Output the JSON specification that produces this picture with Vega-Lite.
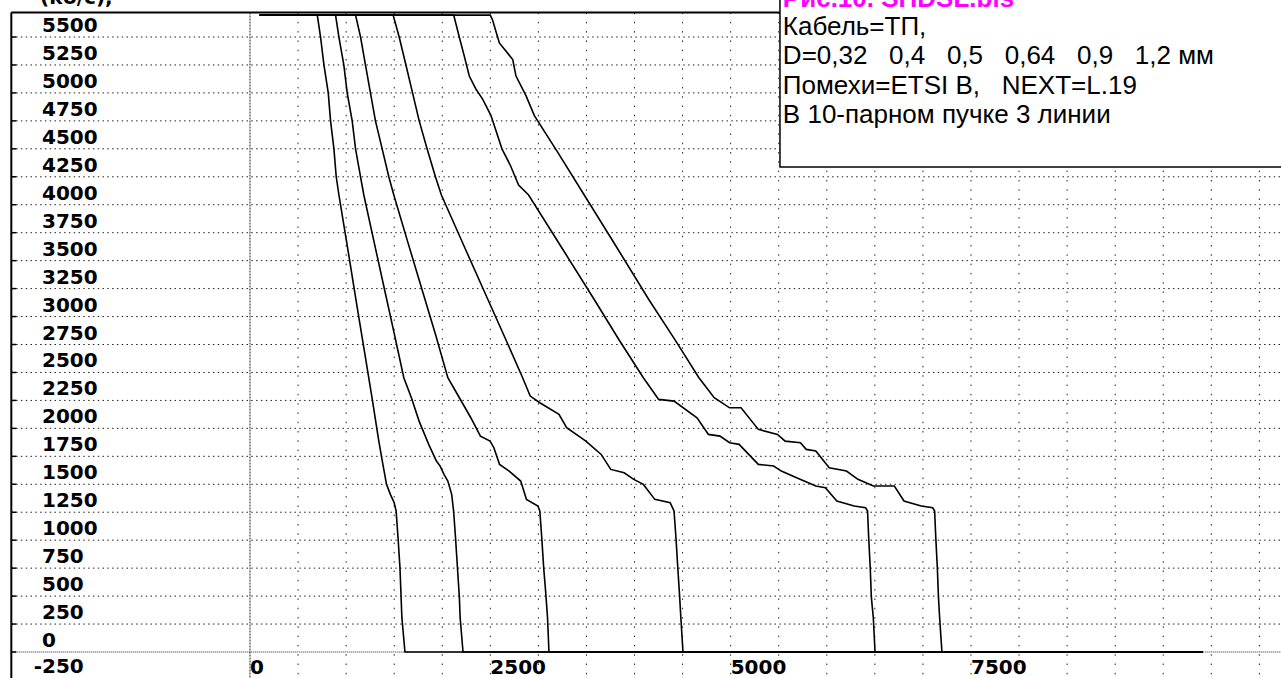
{
  "$schema": "https://vega.github.io/schema/vega-lite/v6.json",
  "width": 1281,
  "height": 678,
  "autosize": {"type": "none"},
  "padding": 0,
  "background": "white",
  "config": {"view": {"stroke": null}},
  "datasets": {
    "vgrid": [{"x":500},{"x":1000},{"x":1500},{"x":2000},{"x":2500},{"x":3000},{"x":3500},{"x":4000},{"x":4500},{"x":5000},{"x":5500},{"x":6000},{"x":6500},{"x":7000},{"x":7500},{"x":8000},{"x":8500},{"x":9000},{"x":9500},{"x":10000},{"x":10500}],
    "ylab": [{"v":0},{"v":250},{"v":500},{"v":750},{"v":1000},{"v":1250},{"v":1500},{"v":1750},{"v":2000},{"v":2250},{"v":2500},{"v":2750},{"v":3000},{"v":3250},{"v":3500},{"v":3750},{"v":4000},{"v":4250},{"v":4500},{"v":4750},{"v":5000},{"v":5250},{"v":5500}],
    "xlab": [{"v":0},{"v":2500},{"v":5000},{"v":7500}],
    "one": [{"a":1}],
    "legend": [{"t":"Кабель=ТП,\nD=0,32 \u00a0 0,4 \u00a0 0,5 \u00a0 0,64 \u00a0 0,9 \u00a0 1,2 мм\nПомехи=ETSI B, \u00a0 NEXT=L.19\nВ 10-парном пучке 3 линии"}],
    "curves": [
      {"s":"0,32","x":100,"y":5696},{"s":"0,32","x":700,"y":5696},{"s":"0,32","x":734,"y":5500},{"s":"0,32","x":769,"y":5250},{"s":"0,32","x":814,"y":5000},{"s":"0,32","x":838,"y":4750},{"s":"0,32","x":873,"y":4500},{"s":"0,32","x":897,"y":4250},{"s":"0,32","x":925,"y":4087},{"s":"0,32","x":1020,"y":3590},{"s":"0,32","x":1110,"y":3110},{"s":"0,32","x":1200,"y":2640},{"s":"0,32","x":1270,"y":2270},{"s":"0,32","x":1340,"y":1886},{"s":"0,32","x":1380,"y":1690},{"s":"0,32","x":1420,"y":1499},{"s":"0,32","x":1460,"y":1410},{"s":"0,32","x":1500,"y":1335},{"s":"0,32","x":1520,"y":1261},{"s":"0,32","x":1540,"y":1022},{"s":"0,32","x":1560,"y":754},{"s":"0,32","x":1580,"y":307},{"s":"0,32","x":1612,"y":0},{"s":"0,32","x":9913,"y":0},
      {"s":"0,4","x":100,"y":5696},{"s":"0,4","x":890,"y":5696},{"s":"0,4","x":925,"y":5500},{"s":"0,4","x":976,"y":5250},{"s":"0,4","x":1011,"y":5000},{"s":"0,4","x":1063,"y":4750},{"s":"0,4","x":1098,"y":4500},{"s":"0,4","x":1150,"y":4250},{"s":"0,4","x":1184,"y":4087},{"s":"0,4","x":1290,"y":3670},{"s":"0,4","x":1400,"y":3240},{"s":"0,4","x":1500,"y":2850},{"s":"0,4","x":1600,"y":2453},{"s":"0,4","x":1679,"y":2274},{"s":"0,4","x":1759,"y":2065},{"s":"0,4","x":1859,"y":1857},{"s":"0,4","x":1939,"y":1708},{"s":"0,4","x":1978,"y":1663},{"s":"0,4","x":2018,"y":1588},{"s":"0,4","x":2058,"y":1529},{"s":"0,4","x":2098,"y":1410},{"s":"0,4","x":2118,"y":1261},{"s":"0,4","x":2138,"y":1022},{"s":"0,4","x":2158,"y":754},{"s":"0,4","x":2178,"y":486},{"s":"0,4","x":2186,"y":307},{"s":"0,4","x":2216,"y":0},{"s":"0,4","x":9913,"y":0},
      {"s":"0,5","x":100,"y":5696},{"s":"0,5","x":1098,"y":5696},{"s":"0,5","x":1150,"y":5500},{"s":"0,5","x":1201,"y":5250},{"s":"0,5","x":1253,"y":5000},{"s":"0,5","x":1305,"y":4750},{"s":"0,5","x":1375,"y":4500},{"s":"0,5","x":1444,"y":4250},{"s":"0,5","x":1496,"y":4087},{"s":"0,5","x":1640,"y":3670},{"s":"0,5","x":1790,"y":3240},{"s":"0,5","x":1930,"y":2840},{"s":"0,5","x":2058,"y":2453},{"s":"0,5","x":2178,"y":2274},{"s":"0,5","x":2297,"y":2095},{"s":"0,5","x":2397,"y":1931},{"s":"0,5","x":2497,"y":1886},{"s":"0,5","x":2537,"y":1827},{"s":"0,5","x":2596,"y":1678},{"s":"0,5","x":2696,"y":1618},{"s":"0,5","x":2816,"y":1529},{"s":"0,5","x":2876,"y":1365},{"s":"0,5","x":2995,"y":1305},{"s":"0,5","x":3015,"y":1261},{"s":"0,5","x":3035,"y":1022},{"s":"0,5","x":3055,"y":754},{"s":"0,5","x":3075,"y":545},{"s":"0,5","x":3095,"y":307},{"s":"0,5","x":3110,"y":0},{"s":"0,5","x":9913,"y":0},
      {"s":"0,64","x":100,"y":5696},{"s":"0,64","x":1489,"y":5696},{"s":"0,64","x":1552,"y":5500},{"s":"0,64","x":1622,"y":5250},{"s":"0,64","x":1691,"y":5000},{"s":"0,64","x":1760,"y":4750},{"s":"0,64","x":1842,"y":4500},{"s":"0,64","x":1929,"y":4250},{"s":"0,64","x":1991,"y":4087},{"s":"0,64","x":2245,"y":3595},{"s":"0,64","x":2477,"y":3148},{"s":"0,64","x":2663,"y":2790},{"s":"0,64","x":2836,"y":2453},{"s":"0,64","x":2915,"y":2289},{"s":"0,64","x":3015,"y":2229},{"s":"0,64","x":3214,"y":2125},{"s":"0,64","x":3294,"y":2006},{"s":"0,64","x":3494,"y":1886},{"s":"0,64","x":3653,"y":1767},{"s":"0,64","x":3753,"y":1633},{"s":"0,64","x":3892,"y":1603},{"s":"0,64","x":3992,"y":1544},{"s":"0,64","x":4092,"y":1499},{"s":"0,64","x":4211,"y":1365},{"s":"0,64","x":4371,"y":1335},{"s":"0,64","x":4411,"y":1261},{"s":"0,64","x":4431,"y":1022},{"s":"0,64","x":4450,"y":754},{"s":"0,64","x":4470,"y":486},{"s":"0,64","x":4482,"y":307},{"s":"0,64","x":4504,"y":0},{"s":"0,64","x":9913,"y":0},
      {"s":"0,9","x":100,"y":5696},{"s":"0,9","x":2119,"y":5696},{"s":"0,9","x":2177,"y":5500},{"s":"0,9","x":2229,"y":5329},{"s":"0,9","x":2281,"y":5151},{"s":"0,9","x":2351,"y":5033},{"s":"0,9","x":2420,"y":4944},{"s":"0,9","x":2507,"y":4797},{"s":"0,9","x":2621,"y":4500},{"s":"0,9","x":2708,"y":4353},{"s":"0,9","x":2794,"y":4176},{"s":"0,9","x":2898,"y":4087},{"s":"0,9","x":3258,"y":3595},{"s":"0,9","x":3584,"y":3148},{"s":"0,9","x":3840,"y":2790},{"s":"0,9","x":4092,"y":2453},{"s":"0,9","x":4251,"y":2259},{"s":"0,9","x":4411,"y":2244},{"s":"0,9","x":4650,"y":2095},{"s":"0,9","x":4769,"y":1946},{"s":"0,9","x":4889,"y":1931},{"s":"0,9","x":4989,"y":1872},{"s":"0,9","x":5088,"y":1857},{"s":"0,9","x":5288,"y":1678},{"s":"0,9","x":5447,"y":1663},{"s":"0,9","x":5527,"y":1618},{"s":"0,9","x":5686,"y":1559},{"s":"0,9","x":5886,"y":1484},{"s":"0,9","x":5985,"y":1469},{"s":"0,9","x":6105,"y":1350},{"s":"0,9","x":6284,"y":1305},{"s":"0,9","x":6404,"y":1290},{"s":"0,9","x":6424,"y":1261},{"s":"0,9","x":6436,"y":1022},{"s":"0,9","x":6452,"y":754},{"s":"0,9","x":6464,"y":486},{"s":"0,9","x":6484,"y":307},{"s":"0,9","x":6502,"y":0},{"s":"0,9","x":9913,"y":0},
      {"s":"1,2","x":100,"y":5696},{"s":"1,2","x":2500,"y":5696},{"s":"1,2","x":2524,"y":5650},{"s":"1,2","x":2594,"y":5447},{"s":"1,2","x":2733,"y":5299},{"s":"1,2","x":2767,"y":5151},{"s":"1,2","x":2872,"y":4974},{"s":"1,2","x":2958,"y":4797},{"s":"1,2","x":3200,"y":4470},{"s":"1,2","x":3477,"y":4087},{"s":"1,2","x":3800,"y":3640},{"s":"1,2","x":4150,"y":3150},{"s":"1,2","x":4430,"y":2780},{"s":"1,2","x":4670,"y":2453},{"s":"1,2","x":4829,"y":2274},{"s":"1,2","x":4989,"y":2184},{"s":"1,2","x":5108,"y":2184},{"s":"1,2","x":5288,"y":1991},{"s":"1,2","x":5487,"y":1946},{"s":"1,2","x":5567,"y":1886},{"s":"1,2","x":5726,"y":1872},{"s":"1,2","x":5786,"y":1812},{"s":"1,2","x":5886,"y":1797},{"s":"1,2","x":6025,"y":1648},{"s":"1,2","x":6205,"y":1618},{"s":"1,2","x":6324,"y":1544},{"s":"1,2","x":6484,"y":1484},{"s":"1,2","x":6703,"y":1484},{"s":"1,2","x":6803,"y":1350},{"s":"1,2","x":6982,"y":1305},{"s":"1,2","x":7102,"y":1290},{"s":"1,2","x":7122,"y":1261},{"s":"1,2","x":7134,"y":1022},{"s":"1,2","x":7150,"y":754},{"s":"1,2","x":7162,"y":486},{"s":"1,2","x":7174,"y":307},{"s":"1,2","x":7198,"y":0},{"s":"1,2","x":9913,"y":0}
    ]
  },
  "layer": [
    {
      "data": {"name": "vgrid"},
      "mark": {"type": "rule", "color": "#222", "strokeWidth": 1, "strokeDash": [1.5, 7.8]},
      "encoding": {
        "x": {"field": "x", "type": "quantitative", "scale": {"domain": [-2600.6, 10725], "nice": false, "zero": false}, "axis": null},
        "y": {"datum": 5719, "type": "quantitative", "scale": {"domain": [-232.5, 5831], "nice": false, "zero": false}, "axis": null},
        "y2": {"datum": -232.5}
      }
    },
    {
      "data": {"name": "one"},
      "mark": {"type": "rule", "color": "#222", "strokeWidth": 1, "strokeDash": [2, 1]},
      "encoding": {
        "x": {"datum": 0, "type": "quantitative", "scale": {"domain": [-2600.6, 10725], "nice": false, "zero": false}, "axis": null},
        "y": {"datum": 5719, "type": "quantitative", "scale": {"domain": [-232.5, 5831], "nice": false, "zero": false}, "axis": null},
        "y2": {"datum": -232.5}
      }
    },
    {
      "data": {"name": "ylab"},
      "transform": [{"filter": "datum.v > 0"}],
      "mark": {"type": "rule", "color": "#222", "strokeWidth": 1, "strokeDash": [1.5, 3.3]},
      "encoding": {
        "x": {"datum": -2483, "type": "quantitative", "scale": {"domain": [-2600.6, 10725], "nice": false, "zero": false}, "axis": null},
        "x2": {"datum": 10725},
        "y": {"field": "v", "type": "quantitative", "scale": {"domain": [-232.5, 5831], "nice": false, "zero": false}, "axis": null}
      }
    },
    {
      "data": {"name": "one"},
      "mark": {"type": "rule", "color": "#222", "strokeWidth": 1, "strokeDash": [1, 1]},
      "encoding": {
        "x": {"datum": -2483, "type": "quantitative", "scale": {"domain": [-2600.6, 10725], "nice": false, "zero": false}, "axis": null},
        "x2": {"datum": 10725},
        "y": {"datum": 0, "type": "quantitative", "scale": {"domain": [-232.5, 5831], "nice": false, "zero": false}, "axis": null}
      }
    },
    {
      "data": {"name": "ylab"},
      "mark": {"type": "rule", "color": "#000", "strokeWidth": 1.5},
      "encoding": {
        "x": {"datum": -2483, "type": "quantitative", "scale": {"domain": [-2600.6, 10725], "nice": false, "zero": false}, "axis": null},
        "x2": {"datum": -2431},
        "y": {"field": "v", "type": "quantitative", "scale": {"domain": [-232.5, 5831], "nice": false, "zero": false}, "axis": null}
      }
    },
    {
      "data": {"name": "curves"},
      "mark": {"type": "line", "color": "#000", "strokeWidth": 1.6},
      "encoding": {
        "x": {"field": "x", "type": "quantitative", "scale": {"domain": [-2600.6, 10725], "nice": false, "zero": false}, "axis": null},
        "y": {"field": "y", "type": "quantitative", "scale": {"domain": [-232.5, 5831], "nice": false, "zero": false}, "axis": null},
        "detail": {"field": "s", "type": "nominal"}
      }
    },
    {
      "data": {"name": "one"},
      "mark": {"type": "rule", "color": "#000", "strokeWidth": 2},
      "encoding": {
        "x": {"datum": -2483, "type": "quantitative", "scale": {"domain": [-2600.6, 10725], "nice": false, "zero": false}, "axis": null},
        "y": {"datum": 5719, "type": "quantitative", "scale": {"domain": [-232.5, 5831], "nice": false, "zero": false}, "axis": null},
        "y2": {"datum": -232.5}
      }
    },
    {
      "data": {"name": "one"},
      "mark": {"type": "rule", "color": "#000", "strokeWidth": 2},
      "encoding": {
        "x": {"datum": -2483, "type": "quantitative", "scale": {"domain": [-2600.6, 10725], "nice": false, "zero": false}, "axis": null},
        "x2": {"datum": 5513},
        "y": {"datum": 5719, "type": "quantitative", "scale": {"domain": [-232.5, 5831], "nice": false, "zero": false}, "axis": null}
      }
    },
    {
      "data": {"name": "one"},
      "mark": {"type": "rect", "fill": "white", "stroke": "#000", "strokeWidth": 1.5},
      "encoding": {
        "x": {"datum": 5513, "type": "quantitative", "scale": {"domain": [-2600.6, 10725], "nice": false, "zero": false}, "axis": null},
        "x2": {"datum": 11500},
        "y": {"datum": 4337, "type": "quantitative", "scale": {"domain": [-232.5, 5831], "nice": false, "zero": false}, "axis": null},
        "y2": {"datum": 6200}
      }
    },
    {
      "data": {"name": "one"},
      "mark": {"type": "text", "text": "Рис.10. SHDSL.bls", "font": "Liberation Sans", "fontWeight": "bold", "fontSize": 26, "color": "#FF00FF", "align": "left", "baseline": "alphabetic"},
      "encoding": {
        "x": {"datum": 5543, "type": "quantitative", "scale": {"domain": [-2600.6, 10725], "nice": false, "zero": false}, "axis": null},
        "y": {"datum": 5766, "type": "quantitative", "scale": {"domain": [-232.5, 5831], "nice": false, "zero": false}, "axis": null}
      }
    },
    {
      "data": {"name": "legend"},
      "mark": {"type": "text", "font": "Liberation Sans", "fontSize": 26, "color": "#000", "align": "left", "baseline": "alphabetic", "lineBreak": "\n", "lineHeight": 29.5},
      "encoding": {
        "x": {"datum": 5543, "type": "quantitative", "scale": {"domain": [-2600.6, 10725], "nice": false, "zero": false}, "axis": null},
        "y": {"datum": 5522, "type": "quantitative", "scale": {"domain": [-232.5, 5831], "nice": false, "zero": false}, "axis": null},
        "text": {"field": "t", "type": "nominal"}
      }
    },
    {
      "data": {"name": "ylab"},
      "mark": {"type": "text", "font": "DejaVu Sans", "fontWeight": "bold", "fontSize": 20, "color": "#000", "align": "left", "baseline": "alphabetic", "dy": -5},
      "encoding": {
        "x": {"datum": -2164, "type": "quantitative", "scale": {"domain": [-2600.6, 10725], "nice": false, "zero": false}, "axis": null},
        "y": {"field": "v", "type": "quantitative", "scale": {"domain": [-232.5, 5831], "nice": false, "zero": false}, "axis": null},
        "text": {"field": "v", "type": "quantitative", "format": "d"}
      }
    },
    {
      "data": {"name": "one"},
      "mark": {"type": "text", "text": "-250", "font": "DejaVu Sans", "fontWeight": "bold", "fontSize": 20, "color": "#000", "align": "left", "baseline": "alphabetic", "dy": -7},
      "encoding": {
        "x": {"datum": -2250, "type": "quantitative", "scale": {"domain": [-2600.6, 10725], "nice": false, "zero": false}, "axis": null},
        "y": {"datum": -250, "type": "quantitative", "scale": {"domain": [-232.5, 5831], "nice": false, "zero": false}, "axis": null}
      }
    },
    {
      "data": {"name": "xlab"},
      "mark": {"type": "text", "font": "DejaVu Sans", "fontWeight": "bold", "fontSize": 20, "color": "#000", "align": "left", "baseline": "alphabetic"},
      "encoding": {
        "x": {"field": "v", "type": "quantitative", "scale": {"domain": [-2600.6, 10725], "nice": false, "zero": false}, "axis": null},
        "y": {"datum": -197, "type": "quantitative", "scale": {"domain": [-232.5, 5831], "nice": false, "zero": false}, "axis": null},
        "text": {"field": "v", "type": "quantitative", "format": "d"}
      }
    },
    {
      "data": {"name": "one"},
      "mark": {"type": "text", "text": "(кб/с),", "font": "DejaVu Sans", "fontWeight": "bold", "fontSize": 20, "color": "#000", "align": "left", "baseline": "alphabetic"},
      "encoding": {
        "x": {"datum": -2184, "type": "quantitative", "scale": {"domain": [-2600.6, 10725], "nice": false, "zero": false}, "axis": null},
        "y": {"datum": 5795, "type": "quantitative", "scale": {"domain": [-232.5, 5831], "nice": false, "zero": false}, "axis": null}
      }
    }
  ]
}
